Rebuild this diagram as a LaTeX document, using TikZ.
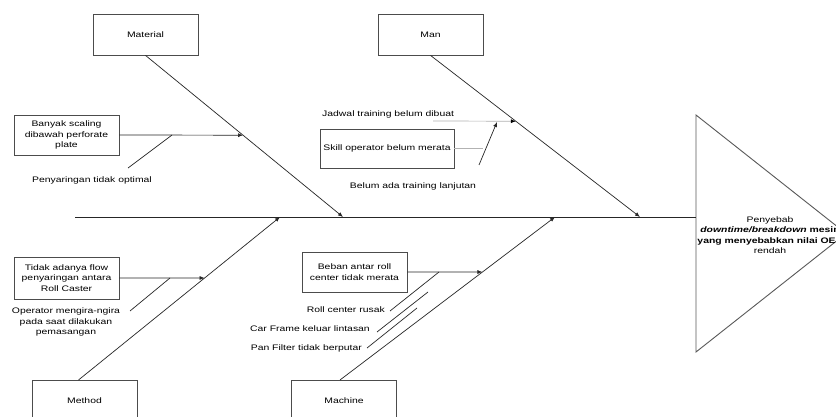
\documentclass[tikz,border=0pt]{standalone}
\usepackage{fontspec}
\setmainfont{Liberation Sans}[FakeStretch=1.3]
\usetikzlibrary{arrows.meta,calc}
\begin{document}
\begin{tikzpicture}[x=1pt,y=-1pt,
  box/.style={draw=black!70, line width=0.8pt, align=center, inner sep=0pt, font=\fontsize{8}{10.5}\selectfont},
  lbl/.style={align=center, inner sep=0pt, font=\fontsize{8}{10.5}\selectfont},
  ln/.style={draw=black!85, line width=0.7pt},
  lnl/.style={draw=black!30, line width=0.7pt},
  arr/.style={ln, -{Latex[length=5pt,width=4pt]}},
]
\useasboundingbox (0,0) rectangle (836,417);
\clip (0,0) rectangle (836,417);
\fill[white] (0,0) rectangle (836,417);

% category boxes
\node[box, minimum width=105pt, minimum height=41pt] (mat) at (145.5,34.5) {Material};
\node[box, minimum width=105pt, minimum height=41pt] (man) at (430.5,34.5) {Man};
\node[box, minimum width=105pt, minimum height=41pt] (met) at (84.5,400.5) {Method};
\node[box, minimum width=105pt, minimum height=41pt] (mac) at (344,400.5) {Machine};

% head
\coordinate (ht) at (696,115);
\coordinate (hb) at (696,352);
\coordinate (ha) at (846,233.5);
\draw[draw=black!65, line width=0.9pt] (ht) -- (hb) -- (ha) -- cycle;
\node[lbl] (head) at (770,235) {Penyebab\\\textbf{\textit{downtime/breakdown} mesin}\\\textbf{yang menyebabkan nilai OEE}\\rendah};

% spine
\coordinate (s0) at (75,217);
\coordinate (s1) at (696,217);
\draw[ln, line width=0.9pt] (s0) -- (s1);

% main bones
\coordinate (matend) at (343,217);
\coordinate (manend) at (640,217);
\coordinate (metstart) at (78.5,380);
\coordinate (metend) at (280,217);
\coordinate (macstart) at (340,380);
\coordinate (macend) at (555,217);
\draw[arr] (mat.south) -- (matend);
\draw[arr] (man.south) -- (manend);
\draw[arr] (metstart) -- (metend);
\draw[arr] (macstart) -- (macend);

% Material causes
\node[box, minimum width=105pt, minimum height=40pt] (b1) at (66.5,135) {Banyak scaling\\dibawah perforate\\plate};
\coordinate (pmat) at ($(mat.south)!0.4938!(matend)$);
\draw[arr] (b1.east) -- (pmat);
\node[lbl] (pny) at (92,180) {Penyaringan tidak optimal};
\coordinate (pn1) at (128,168);
\coordinate (pn2) at (172,135);
\draw[ln] (pn1) -- (pn2);

% Man causes
\node[lbl, anchor=west] (jdw) at (322,114) {Jadwal training belum dibuat};
\coordinate (jd1) at (433,121);
\coordinate (pman) at ($(man.south)!0.4074!(manend)$);
\draw[lnl, -{Latex[length=5pt,width=4pt]}, arrows={-{Latex[length=5pt,width=4pt,fill=black,color=black]}}] (jd1) -- (pman);
\node[box, minimum width=134pt, minimum height=39pt] (skill) at (387,148.5) {Skill operator belum merata};
\coordinate (sk2) at (483,148.5);
\draw[lnl] (skill.east) -- (sk2);
\node[lbl] (blm) at (413,186) {Belum ada training lanjutan};
\coordinate (bl1) at (479,165);
\coordinate (bl2) at (497,122);
\draw[arr] (bl1) -- (bl2);

% Method causes
\node[box, minimum width=105pt, minimum height=42pt] (tdk) at (66.5,278) {Tidak adanya flow\\penyaringan antara\\Roll Caster};
\coordinate (pmet) at ($(metstart)!0.6258!(metend)$);
\draw[arr] (tdk.east) -- (pmet);
\node[lbl] (opr) at (66,322) {Operator mengira-ngira\\pada saat dilakukan\\pemasangan};
\coordinate (op1) at (130,311);
\coordinate (op2) at (170,278);
\draw[ln] (op1) -- (op2);

% Machine causes
\node[box, minimum width=105pt, minimum height=40pt] (bbn) at (354.5,272) {Beban antar roll\\center tidak merata};
\coordinate (pmac) at ($(macstart)!0.6626!(macend)$);
\draw[arr] (bbn.east) -- (pmac);
\node[lbl, anchor=east] (rcr) at (385,310) {Roll center rusak};
\node[lbl, anchor=east] (cfk) at (370,329) {Car Frame keluar lintasan};
\node[lbl, anchor=east] (pft) at (362,348) {Pan Filter tidak berputar};
\coordinate (m1a) at (390,311);
\coordinate (m1b) at (439,272);
\coordinate (m2a) at (377,332);
\coordinate (m2b) at (428,292);
\coordinate (m3a) at (367,348);
\coordinate (m3b) at (417,308);
\draw[ln] (m1a) -- (m1b);
\draw[ln] (m2a) -- (m2b);
\draw[ln] (m3a) -- (m3b);
\end{tikzpicture}
\end{document}
